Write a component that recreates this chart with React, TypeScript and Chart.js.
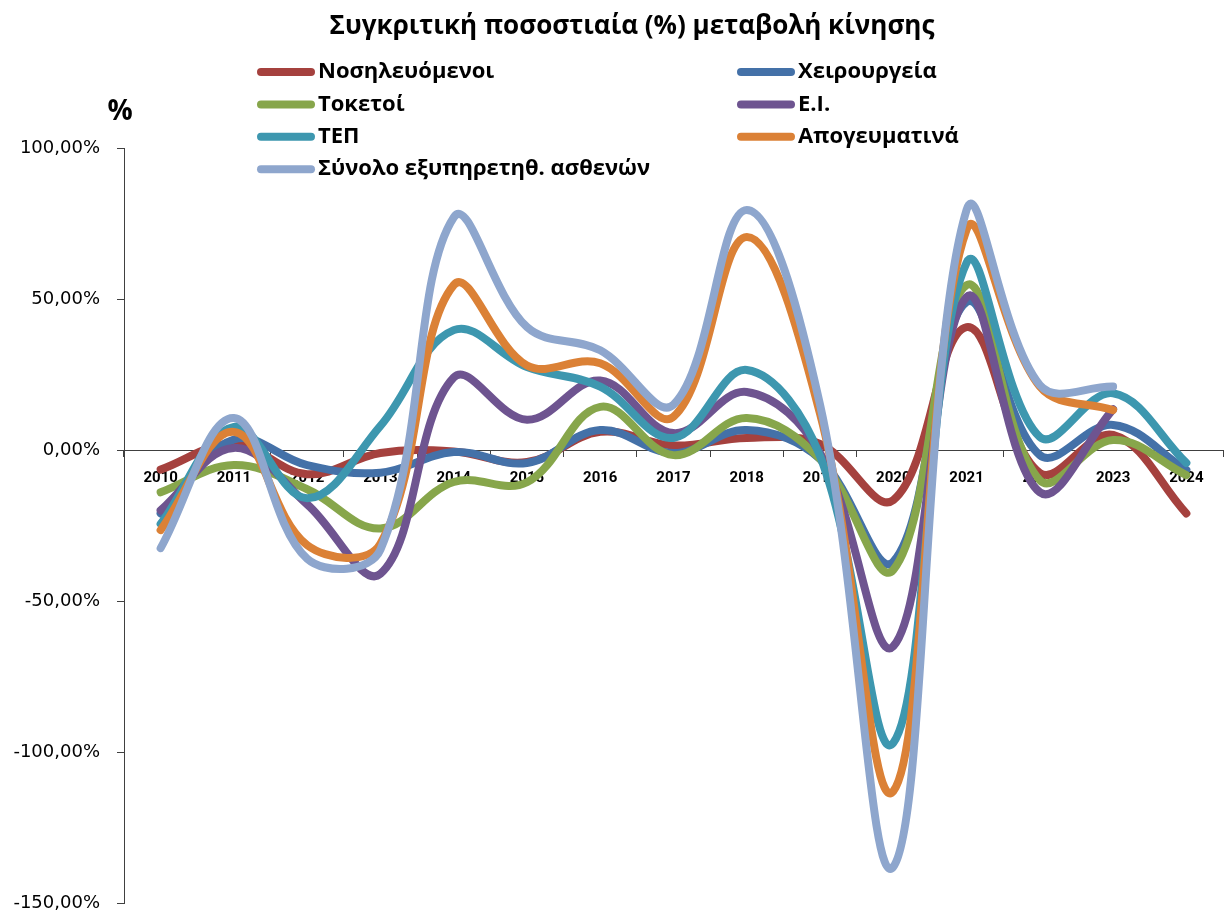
import React, { useEffect, useRef } from "react";
import { Chart, registerables } from "chart.js";

Chart.register(...registerables);

const TITLE = "Συγκριτική ποσοστιαία (%) μεταβολή κίνησης";
const years = ["2010", "2011", "2012", "2013", "2014", "2015", "2016", "2017", "2018", "2019", "2020", "2021", "2022", "2023", "2024"];

const seriesNames = [
  "Νοσηλευόμενοι",
  "Χειρουργεία",
  "Τοκετοί",
  "Ε.Ι.",
  "ΤΕΠ",
  "Απογευματινά",
  "Σύνολο εξυπηρετηθ. ασθενών",
];

const hospitalized = [-6.5, 2, -8, -1, -0.5, -4, 6, 1.5, 4, 2, -16.6, 40.7, -7.6, 5, -21];
const surgeries = [-21, 3.5, -5, -7.5, -0.7, -4.3, 6.6, -1, 6.6, -3, -37, 49, -1.7, 8.3, -6.6];
const births = [-14, -5, -13, -26, -10.6, -10.7, 14.3, -1.7, 10.6, -3, -39.7, 54.6, -10, 3.3, -8.3];
const icu = [-20, 0.7, -18, -41, 24, 10, 23, 5.6, 19.2, -1, -65, 50.7, -14, 13.5, null];
const er = [-24.5, 7.6, -16, 8, 39.7, 27.5, 21, 4, 26.5, -2, -97, 62, 4.3, 18.8, -4.3];
const afternoon = [-26.5, 6, -31.5, -31, 54.6, 28, 28.7, 11, 70.5, 12, -113, 73, 21, 13.2, null];
const total = [-32.5, 10.6, -36, -33, 77, 40.7, 33, 15, 79.5, 15, -138, 79.5, 21.5, 21, null];

const seriesValues = [hospitalized, surgeries, births, icu, er, afternoon, total];
const colors = ["#A5413E", "#4471A8", "#87A64B", "#6E5490", "#3D97AF", "#DB8136", "#8EA6CD"];

const yTicks = { min: -150, max: 100, step: 50 };

const headerPlugin = {
  id: "header",
  afterDraw(chart: any) {
    const ctx = chart.ctx;
    ctx.save();
    ctx.fillStyle = "#000";
    ctx.textBaseline = "middle";
    ctx.textAlign = "center";
    ctx.font = "bold 26px 'Open Sans'";
    ctx.fillText(TITLE, 632, 27);
    ctx.font = "bold 28px 'Open Sans'";
    ctx.fillText("%", 120, 112);
    const cols = [257, 737];
    chart.data.datasets.forEach((ds: any, i: number) => {
      const x = cols[i % 2];
      const y = 72 + Math.floor(i / 2) * 32.4;
      ctx.strokeStyle = ds.borderColor;
      ctx.lineWidth = 8;
      ctx.lineCap = "round";
      ctx.beginPath();
      ctx.moveTo(x + 4, y);
      ctx.lineTo(x + 54, y);
      ctx.stroke();
      ctx.textAlign = "left";
      ctx.font = "bold 22px 'Open Sans'";
      ctx.fillStyle = "#000";
      ctx.fillText(ds.label, x + 61, y);
    });
    ctx.restore();
  },
};

export default function App() {
  const ref = useRef<HTMLCanvasElement>(null);
  useEffect(() => {
    if (!ref.current) return;
    const n = seriesNames.length;
    const chart = new Chart(ref.current, {
      type: "line",
      data: {
        labels: years,
        datasets: seriesNames.map((name, i) => ({
          label: name,
          data: seriesValues[i],
          borderColor: colors[i],
          backgroundColor: colors[i],
          borderWidth: 8,
          pointRadius: 0,
          pointHoverRadius: 0,
          tension: 0.38,
          borderCapStyle: "round" as const,
          borderJoinStyle: "round" as const,
          spanGaps: false,
          order: n - i,
        })),
      },
      options: {
        animation: false,
        responsive: true,
        maintainAspectRatio: false,
        layout: { padding: { top: 148, right: 3, bottom: 13, left: 0 } },
        plugins: {
          legend: { display: false },
          title: { display: false },
          tooltip: { enabled: false },
        },
        scales: {
          x: {
            type: "category",
            position: { y: 0 } as any,
            offset: true,
            afterFit(scale: any) {
              scale.height = 0;
            },
            grid: {
              display: true,
              offset: true,
              drawOnChartArea: false,
              drawTicks: true,
              tickLength: 6,
              color: "#404040",
            },
            border: { display: true, color: "#404040", width: 1 },
            ticks: {
              color: "#000",
              padding: 13,
              maxRotation: 0,
              autoSkip: false,
              font: { family: "Roboto", weight: "bold", size: 15 },
            },
          },
          y: {
            min: yTicks.min,
            max: yTicks.max,
            afterFit(scale: any) {
              scale.width = 124;
              scale.paddingTop = 0;
              scale.paddingBottom = 0;
            },
            grid: {
              display: true,
              drawOnChartArea: false,
              drawTicks: true,
              tickLength: 7,
              color: "#404040",
            },
            border: { display: true, color: "#404040", width: 1 },
            ticks: {
              stepSize: yTicks.step,
              padding: 17,
              color: "#000",
              font: { family: "DejaVu Sans", size: 18 },
              callback: (v: any) => Number(v).toFixed(2).replace(".", ",") + "%",
            },
          },
        },
      },
      plugins: [headerPlugin],
    });
    return () => chart.destroy();
  }, []);
  return (
    <div style={{ position: "absolute", left: 0, top: 0, width: 1226, height: 916, background: "#fff" }}>
      <canvas ref={ref} />
    </div>
  );
}
